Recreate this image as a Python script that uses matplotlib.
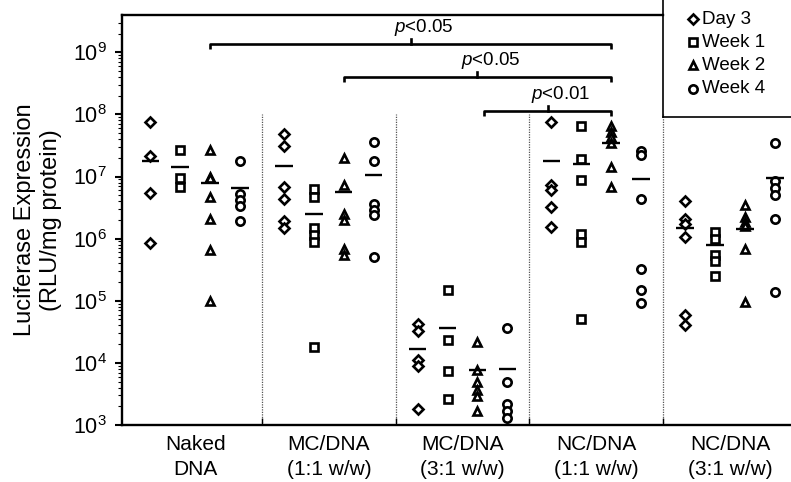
import matplotlib
matplotlib.use("Agg")
import matplotlib.pyplot as plt
import numpy as np
from matplotlib.lines import Line2D
from matplotlib.ticker import FixedLocator, NullFormatter, LogFormatterMathtext

plt.rcParams['font.family'] = ['Liberation Sans', 'DejaVu Sans']
plt.rcParams['mathtext.fontset'] = 'custom'
plt.rcParams['mathtext.rm'] = 'Liberation Sans'
plt.rcParams['mathtext.it'] = 'Liberation Sans:italic'

# ---------------- data ----------------
categories = ["Naked\nDNA", "MC/DNA\n(1:1 w/w)", "MC/DNA\n(3:1 w/w)", "NC/DNA\n(1:1 w/w)", "NC/DNA\n(3:1 w/w)"]
series_names = ["Day 3", "Week 1", "Week 2", "Week 4"]

day3 = [[7.5e7, 2.1e7, 5.5e6, 8.5e5],
        [4.9e7, 3.1e7, 6.8e6, 4.4e6, 1.9e6, 1.5e6],
        [4.2e4, 3.3e4, 1.1e4, 8.9e3, 1.8e3],
        [7.6e7, 7.2e6, 6.0e6, 3.2e6, 1.55e6],
        [4.0e6, 2.1e6, 1.7e6, 1.05e6, 5.8e4, 4.1e4]]
week1 = [[2.7e7, 9.3e6, 6.8e6],
         [6.3e6, 4.6e6, 1.5e6, 1.15e6, 8.9e5, 1.8e4],
         [1.5e5, 2.3e4, 7.4e3, 2.6e3],
         [6.4e7, 1.9e7, 8.9e6, 1.2e6, 8.9e5, 5.0e4],
         [1.3e6, 1.0e6, 5.4e5, 4.4e5, 2.5e5]]
week2 = [[2.7e7, 1.0e7, 9.6e6, 4.7e6, 2.1e6, 6.5e5, 1.0e5],
         [2.0e7, 7.3e6, 2.5e6, 2.0e6, 6.9e5, 5.4e5],
         [2.2e4, 7.7e3, 5.0e3, 3.7e3, 2.9e3, 1.7e3],
         [6.4e7, 5.2e7, 4.4e7, 3.5e7, 1.4e7, 6.8e6],
         [3.5e6, 2.2e6, 1.85e6, 1.6e6, 6.8e5, 9.6e4]]
week4 = [[1.8e7, 5.3e6, 4.2e6, 3.3e6, 1.9e6],
         [3.6e7, 1.8e7, 3.6e6, 2.9e6, 2.4e6, 5.1e5],
         [3.6e4, 5.0e3, 2.2e3, 1.7e3, 1.3e3],
         [2.6e7, 2.2e7, 4.4e6, 3.3e5, 1.5e5, 9.1e4],
         [3.5e7, 8.5e6, 6.5e6, 5.0e6, 2.1e6, 1.4e5]]

day3_mean = [1.8e7, 1.5e7, 1.7e4, 1.8e7, 1.5e6]
week1_mean = [1.4e7, 2.5e6, 3.6e4, 1.6e7, 8.0e5]
week2_mean = [8.0e6, 5.6e6, 7.7e3, 3.5e7, 1.45e6]
week4_mean = [6.6e6, 1.05e7, 8.1e3, 9.0e6, 9.3e6]

y_major_ticks = [1e3, 1e4, 1e5, 1e6, 1e7, 1e8, 1e9]

comparisons = [(0, 3), (1, 3), (2, 3)]
p_labels = ["<0.05", "<0.05", "<0.01"]

# ---------------- figure ----------------
W, H = 791, 482
fig = plt.figure(figsize=(W / 100, H / 100), dpi=100)
ax = fig.add_axes([122 / W, (H - 425) / H, (W - 122) / W, 410 / H])
ax.set_yscale('log')
ymax = 10 ** 9.6
ax.set_ylim(1e3, ymax)
ax.set_xlim(-0.547, 4.457)

all_series = [day3, week1, week2, week4]
all_means = [day3_mean, week1_mean, week2_mean, week4_mean]
markers = ['D', 's', '^', 'o']
msizes = [5.0, 5.5, 6.2, 6.0]
offsets = [-0.336, -0.112, 0.112, 0.336]

for s, (vals, means) in enumerate(zip(all_series, all_means)):
    for g in range(len(categories)):
        x = g + offsets[s]
        ax.plot([x] * len(vals[g]), vals[g], ls='none', marker=markers[s],
                ms=msizes[s], mfc='white', mec='black', mew=1.9, zorder=3)
        ax.hlines(means[g], x - 0.065, x + 0.065, color='black', lw=1.7, zorder=4)

# dividers
for d in [0.5, 1.5, 2.5, 3.5]:
    ax.plot([d, d], [1e3, 10 ** 8.0], color='#555555', ls=(0, (1, 1)), lw=0.9, zorder=1)

# spines
for sp in ['left', 'bottom', 'top']:
    ax.spines[sp].set_linewidth(1.7)
ax.spines['right'].set_visible(False)
ax.spines['top'].set_bounds(-0.547, 3.5)

# ticks
ax.set_xticks(range(len(categories)))
ax.set_xticklabels(categories, fontsize=15, linespacing=1.45)
ax.tick_params(axis='x', which='major', length=0, pad=7)
ax.set_xticks([0.5, 1.5, 2.5, 3.5], minor=True)
ax.set_xticklabels([], minor=True)
ax.tick_params(axis='x', which='minor', direction='in', length=5, width=1)

minor_ticks = [m * t for t in y_major_ticks for m in range(2, 10) if m * t < ymax]
ax.yaxis.set_major_locator(FixedLocator(y_major_ticks))
ax.yaxis.set_minor_locator(FixedLocator(minor_ticks))
ax.yaxis.set_minor_formatter(NullFormatter())
ax.yaxis.set_major_formatter(LogFormatterMathtext())
ax.tick_params(axis='y', which='major', direction='out', length=5, width=1.5, labelsize=15.5, pad=6)
ax.tick_params(axis='y', which='minor', direction='out', length=3, width=0.8)
ax.set_ylabel("Luciferase Expression\n(RLU/mg protein)", fontsize=17, linespacing=1.2, labelpad=8)

# significance brackets
bracket_y = [10 ** 9.13, 10 ** 8.605, 10 ** 8.05]
bracket_x0 = [0.11, 1.11, 2.16]
for (a, b), lab, y, x0 in zip(comparisons, p_labels, bracket_y, bracket_x0):
    x1 = b + 0.112
    drop = 10 ** -0.08
    ax.plot([x0, x0, x1, x1], [y * drop, y, y, y * drop], color='black', lw=1.9,
            solid_capstyle='butt', clip_on=False, zorder=5)
    xm = (x0 + x1) / 2
    ax.plot([xm, xm], [y, y * 10 ** 0.08], color='black', lw=1.9, clip_on=False, zorder=5)
    ax.text(xm + 0.1, y * 10 ** 0.1, r"$\it{p}$" + lab, ha='center', va='bottom',
            fontsize=13.5, clip_on=False)

# legend box (manual, extends above the axes)
xl = 663 / W
yb = 1 - 117 / H
fig.add_artist(Line2D([xl, xl], [yb, 1.0], color='black', lw=1.2, transform=fig.transFigure))
fig.add_artist(Line2D([xl, 1.0], [yb, yb], color='black', lw=1.2, transform=fig.transFigure))
for i, (name, m, ms) in enumerate(zip(series_names, markers, msizes)):
    yy = 1 - (19 + 23.2 * i) / H
    fig.add_artist(Line2D([693 / W], [yy], marker=m, ms=ms, mfc='white', mec='black', mew=1.9,
                          ls='none', transform=fig.transFigure))
    fig.text(702 / W, yy, name, fontsize=13.5, va='center', ha='left')

fig.savefig("out.png", dpi=100)
